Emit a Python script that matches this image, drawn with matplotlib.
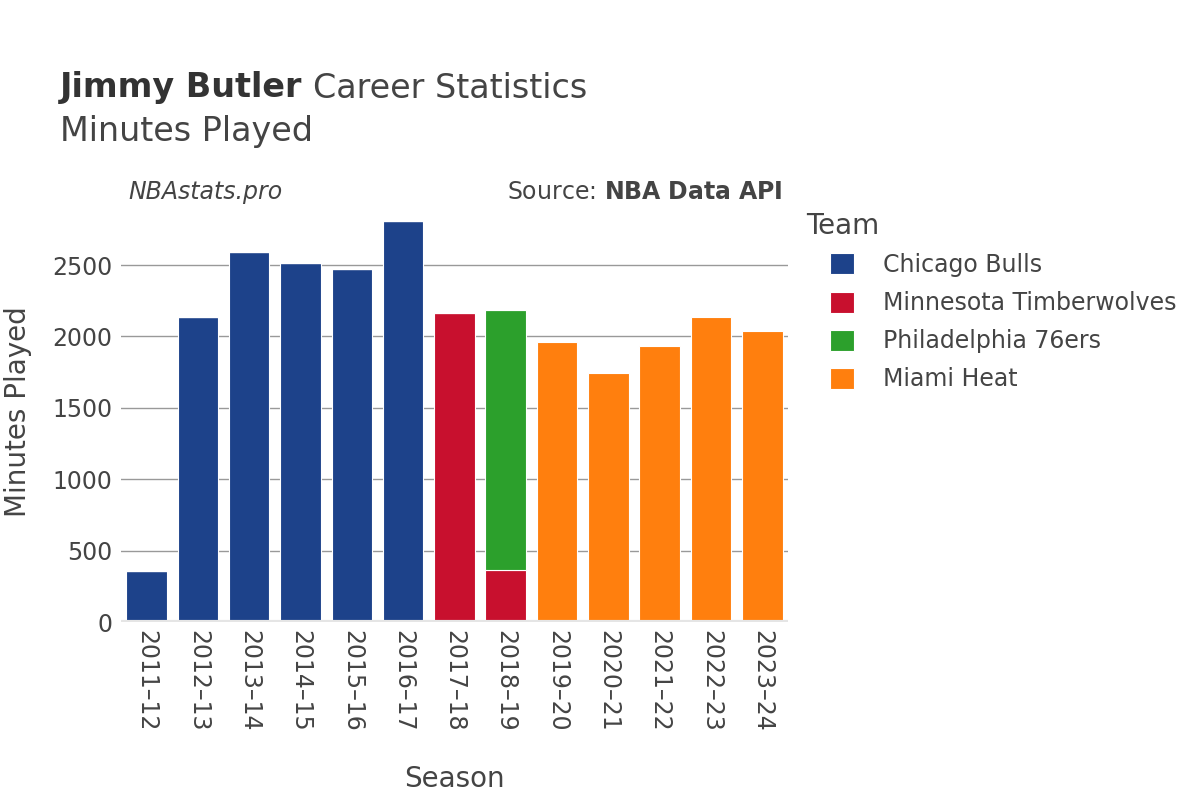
import matplotlib.pyplot as plt
import numpy as np

seasons = ["2011–12", "2012–13", "2013–14", "2014–15", "2015–16", "2016–17", "2017–18",
           "2018–19", "2019–20", "2020–21", "2021–22", "2022–23", "2023–24"]
teams = ["Chicago Bulls", "Minnesota Timberwolves", "Philadelphia 76ers", "Miami Heat"]
colors = ["#1d428a", "#c8102e", "#2ca02c", "#ff7f0e"]
# minutes per team per season (0 = not on that team)
bulls = [358, 2134, 2591, 2513, 2474, 2809, 0, 0, 0, 0, 0, 0, 0]
wolves = [0, 0, 0, 0, 0, 0, 2164, 361, 0, 0, 0, 0, 0]
sixers = [0, 0, 0, 0, 0, 0, 0, 1824, 0, 0, 0, 0, 0]
heat = [0, 0, 0, 0, 0, 0, 0, 0, 1959, 1745, 1931, 2138, 2040]

fig = plt.figure(figsize=(12, 8), dpi=100)
ax = fig.add_axes([0.1008, 0.2225, 0.5558, 0.5265])

x = np.arange(len(seasons))
bottom = np.zeros(len(seasons))
for name, vals, col in zip(teams, [bulls, wolves, sixers, heat], colors):
    vals = np.array(vals, dtype=float)
    ax.bar(x, vals, width=0.79, bottom=bottom, color=col, edgecolor="white",
           linewidth=0.8, label=name, zorder=3)
    bottom += vals

ax.set_xlim(-0.5, len(seasons) - 0.5)
ax.set_ylim(0, 2950)
ax.set_yticks([0, 500, 1000, 1500, 2000, 2500])
ax.yaxis.grid(True, color="#999999", linewidth=1, zorder=0)
ax.axhline(0, color="#e5e5e5", linewidth=3, zorder=4)
for s in ax.spines.values():
    s.set_visible(False)
ax.tick_params(axis="both", length=0, labelsize=17, colors="#444444", pad=6)
ax.set_xticks(x)
ax.set_xticklabels(seasons, rotation=-90)
ax.set_xlabel("Season", fontsize=20, color="#444444")
ax.xaxis.set_label_coords(0.5, -0.34)
ax.set_ylabel("Minutes Played", fontsize=20, color="#444444")
ax.yaxis.set_label_coords(-0.133, 0.5)

t1 = fig.text(0.05, 0.89, "Jimmy Butler", fontsize=24, fontweight="bold", color="#333333", va="center")
fig.canvas.draw()
bb = t1.get_window_extent()
fig.text(bb.x1 / 1200 + 0.009, 0.89, "Career Statistics", fontsize=24, color="#444444", va="center")
fig.text(0.05, 0.835, "Minutes Played", fontsize=24, color="#444444", va="center")
fig.text(0.107, 0.76, "NBAstats.pro", fontsize=17, style="italic", color="#444444", va="center")
fig.text(0.6525, 0.76, "Source: $\\bf{NBA\\ Data\\ API}$", fontsize=17, color="#444444",
         va="center", ha="right")

fig.text(806 / 1200, 1 - 226 / 800, "Team", fontsize=20, color="#444444", va="center")
leg = ax.legend(loc="upper left", bbox_to_anchor=(830 / 1200, 1 - 253 / 800),
                bbox_transform=fig.transFigure, frameon=False, borderpad=0, borderaxespad=0,
                fontsize=17, handlelength=1.0, handleheight=1.0,
                handletextpad=1.25, labelspacing=0.6)
for t in leg.get_texts():
    t.set_color("#444444")

fig.savefig("out.png", dpi=100)
